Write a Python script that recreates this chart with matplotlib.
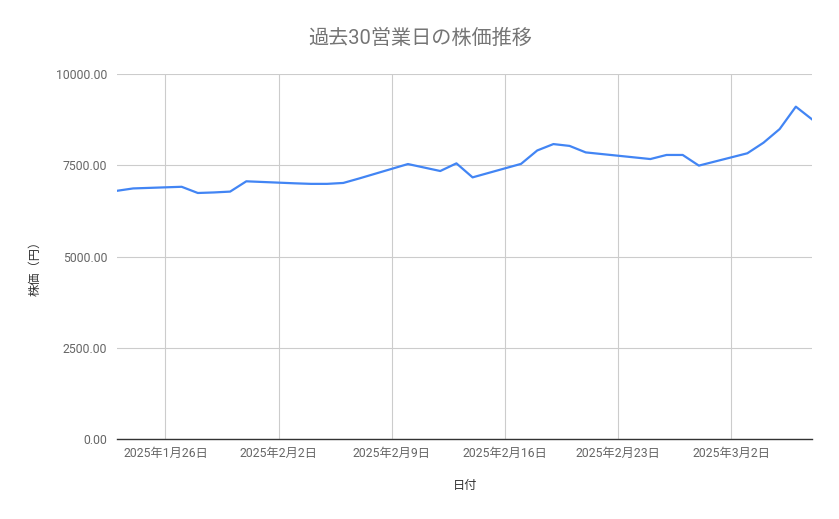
import matplotlib
matplotlib.use("Agg")
import matplotlib.pyplot as plt
import matplotlib.dates as mdates
import datetime as dt

plt.rcParams['font.family'] = ['Roboto', 'Noto Sans CJK JP', 'DejaVu Sans']

dates = [
    "2025-01-23", "2025-01-24", "2025-01-27", "2025-01-28", "2025-01-29",
    "2025-01-30", "2025-01-31", "2025-02-03", "2025-02-04", "2025-02-05",
    "2025-02-06", "2025-02-07", "2025-02-10", "2025-02-12", "2025-02-13",
    "2025-02-14", "2025-02-17", "2025-02-18", "2025-02-19", "2025-02-20",
    "2025-02-21", "2025-02-25", "2025-02-26", "2025-02-27", "2025-02-28",
    "2025-03-03", "2025-03-04", "2025-03-05", "2025-03-06", "2025-03-07",
]
prices = [
    6800, 6865, 6910, 6740, 6755,
    6778, 7060, 7005, 6990, 6990,
    7015, 7140, 7533, 7342, 7552,
    7168, 7538, 7905, 8080, 8030,
    7852, 7670, 7782, 7782, 7490,
    7828, 8118, 8492, 9105, 8758,
]
tick_dates = ["2025-01-26", "2025-02-02", "2025-02-09", "2025-02-16", "2025-02-23", "2025-03-02"]
y_ticks = [0, 2500, 5000, 7500, 10000]

title = "過去30営業日の株価推移"
x_label = "日付"
y_label = "株価（円）"

x = [dt.datetime.strptime(d, "%Y-%m-%d") for d in dates]
tx = [dt.datetime.strptime(d, "%Y-%m-%d") for d in tick_dates]

fig = plt.figure(figsize=(8.39, 5.19), dpi=100)
ax = fig.add_axes([117/839, 1-439/519, (812-117)/839, (439-74)/519])

ax.plot(x, prices, color="#4285F4", linewidth=1.6, solid_joinstyle="round")

ax.set_xlim(x[0], x[-1])
ax.set_ylim(0, 10000)
ax.set_yticks(y_ticks)
ax.set_yticklabels([f"{v:.2f}" for v in y_ticks])
ax.set_xticks(tx)
ax.set_xticklabels([f"{d.year}年{d.month}月{d.day}日" for d in tx])

ax.grid(True, color="#cccccc", linewidth=0.8)
ax.set_axisbelow(True)
for s in ["top", "right", "left"]:
    ax.spines[s].set_visible(False)
ax.spines["bottom"].set_color("#333333")
ax.spines["bottom"].set_linewidth(1.0)
ax.spines["bottom"].set_zorder(3)

ax.tick_params(axis="y", length=0, pad=7, labelsize=8.8, labelcolor="#666666")
ax.tick_params(axis="x", length=0, pad=6, labelsize=8.8, labelcolor="#666666")

fig.text(420/839, 1-38/519, title, ha="center", va="center", fontsize=14.5, color="#757575")
fig.text(465/839, 1-486/519, x_label, ha="center", va="center", fontsize=8.8, color="#333333")
fig.text(35/839, 1-265/519, y_label, ha="center", va="center", rotation=90, fontsize=8.8, color="#333333")

fig.savefig("out.png", dpi=100)
